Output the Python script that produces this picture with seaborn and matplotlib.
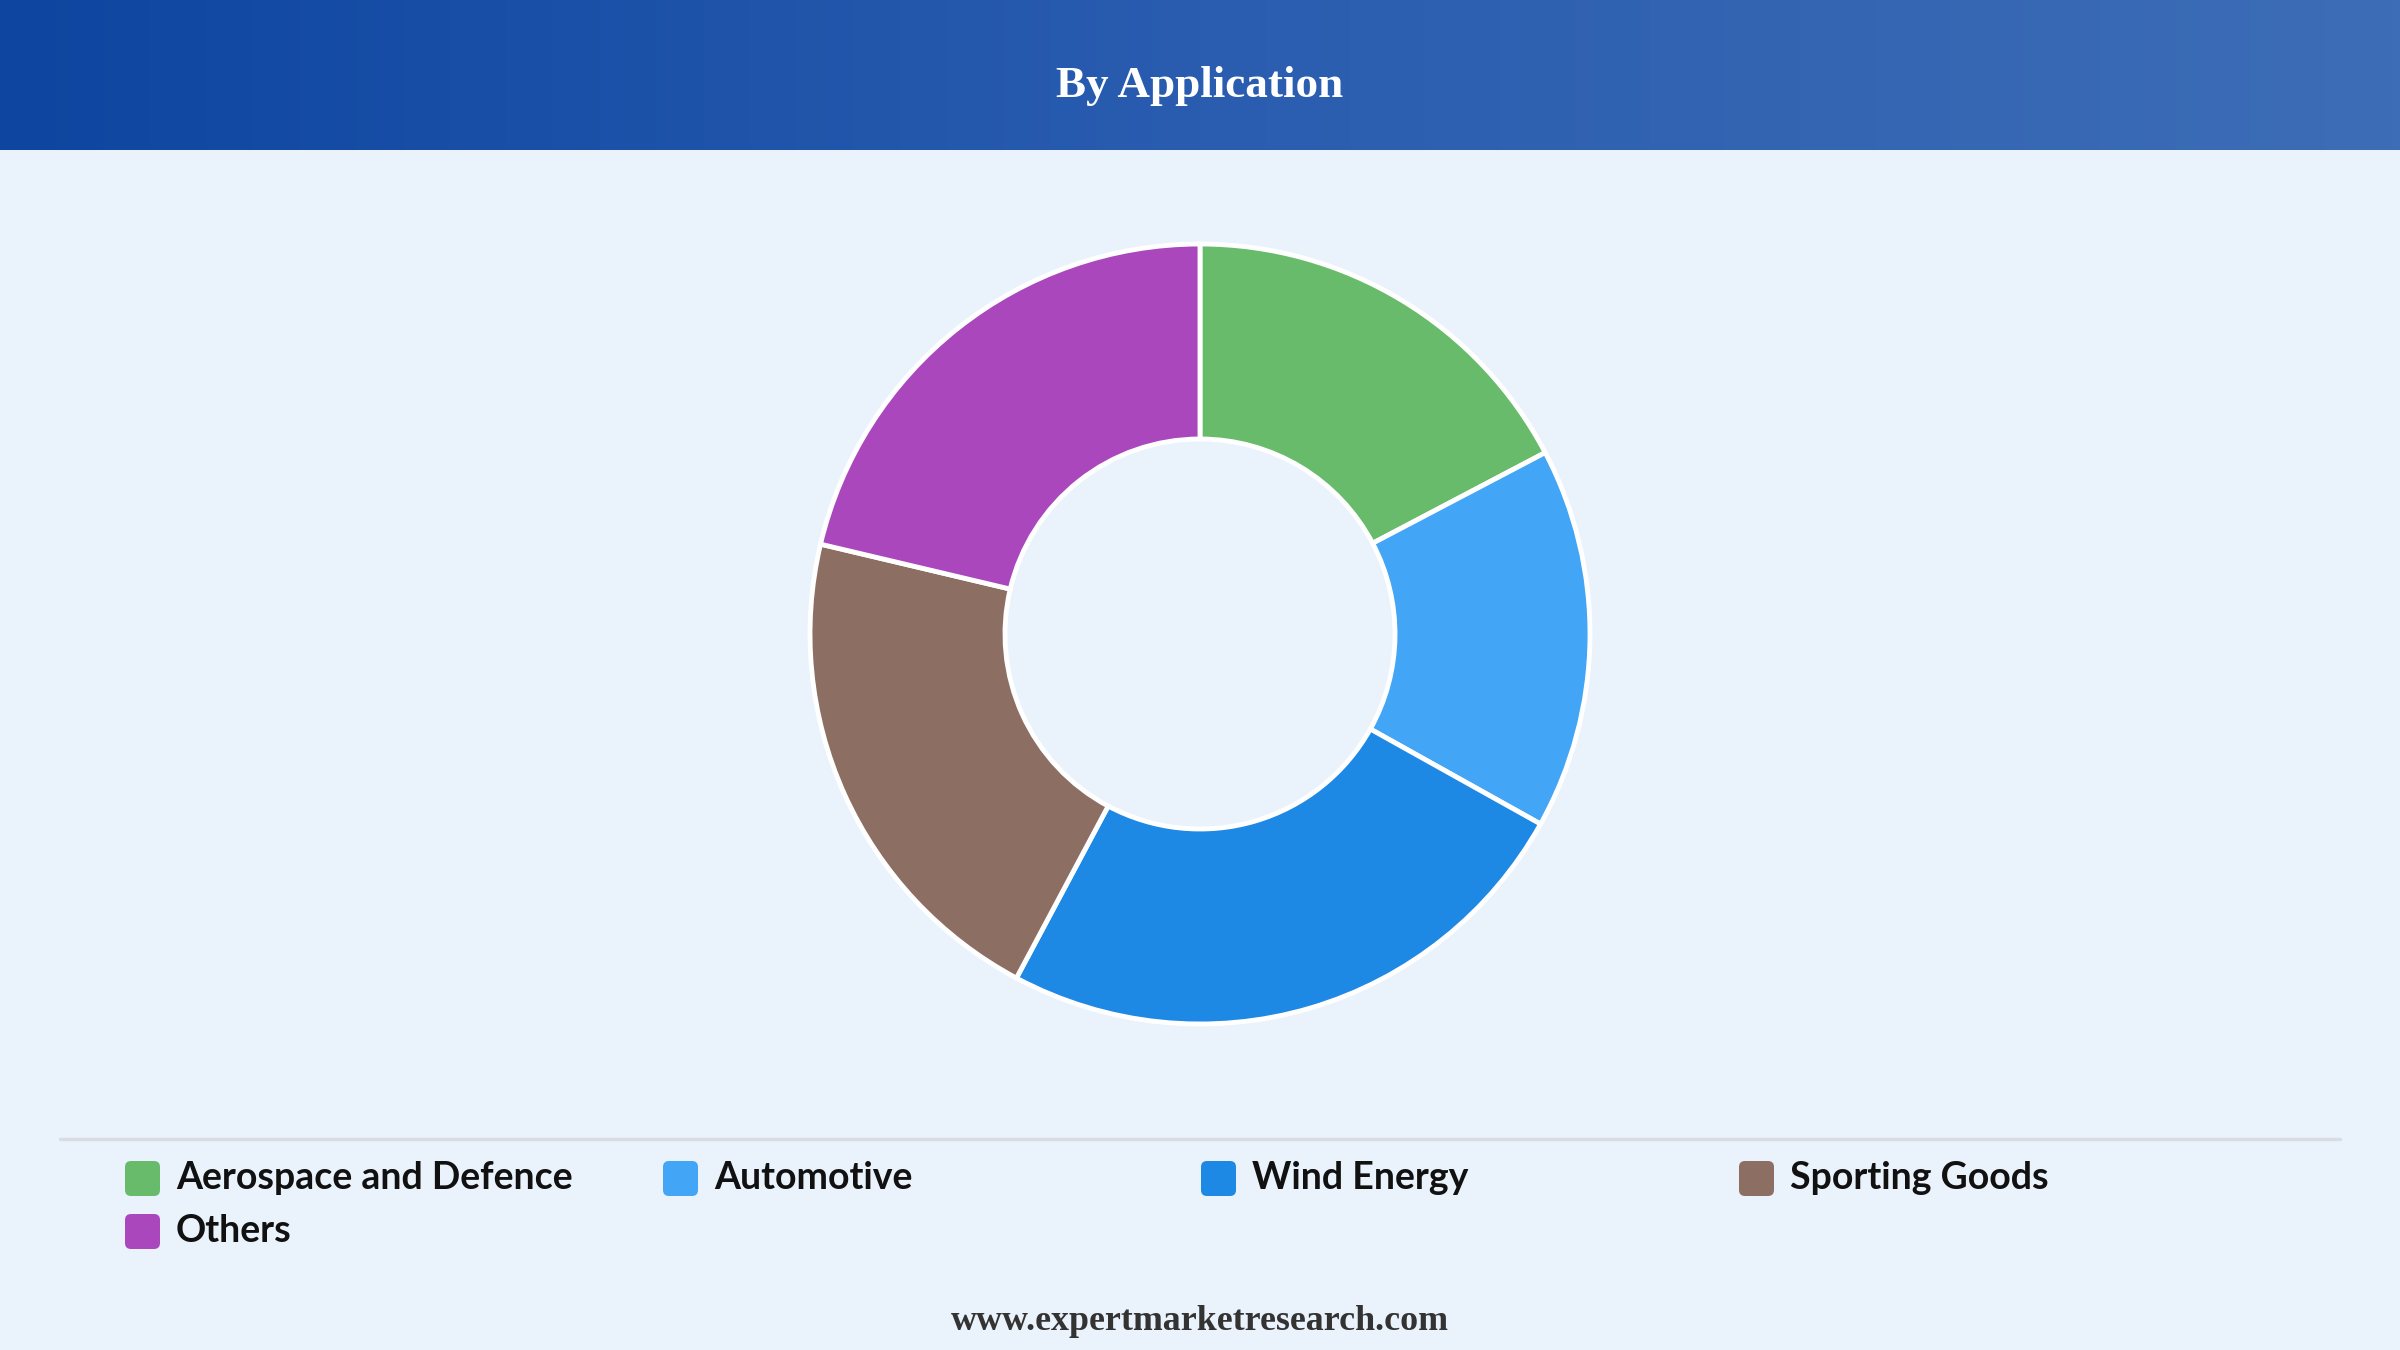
import numpy as np
import matplotlib.pyplot as plt
import seaborn as sns
from matplotlib.patches import FancyBboxPatch
from matplotlib.colors import LinearSegmentedColormap

# Dados
categorias = ["Aerospace and Defence", "Automotive", "Wind Energy", "Sporting Goods", "Others"]
valores = [17.3, 15.8, 24.7, 20.9, 21.3]
cores = ["#69BB6C", "#42A5F5", "#1E88E5", "#8D6E63", "#AB47BC"]
titulo = "By Application"
rodape = "www.expertmarketresearch.com"

sns.set_theme(style="white")
plt.rcParams['font.family'] = ['Lato', 'DejaVu Sans']

W, H = 2400, 1350
fig = plt.figure(figsize=(24, 13.5), dpi=100)
fig.patch.set_facecolor("#EAF2FC")

# Cabeçalho com gradiente
ax_head = fig.add_axes([0, 1 - 150 / H, 1, 150 / H])
grad = LinearSegmentedColormap.from_list("hdr", ["#0D45A0", "#2A5DB0", "#3D6DB6"])
ax_head.imshow(np.linspace(0, 1, 256).reshape(1, -1), cmap=grad, aspect="auto", extent=[0, 1, 0, 1])
ax_head.set_axis_off()
ax_head.text(0.5, 0.43, titulo, color="white", fontsize=32.5, fontweight="bold",
             family="Liberation Serif", ha="center", va="center", transform=ax_head.transAxes)

# Rosca
cx, cy, r = 1200, 634, 390
ax = fig.add_axes([(cx - r) / W, (H - cy - r) / H, 2 * r / W, 2 * r / H])
ax.pie(valores, colors=cores, startangle=90, counterclock=False, radius=1,
       wedgeprops=dict(width=0.5, edgecolor="white", linewidth=3.5))
ax.set_xlim(-1.0, 1.0)
ax.set_ylim(-1.0, 1.0)
ax.set_aspect("equal")

# Linha separadora
ax_bg = fig.add_axes([0, 0, 1, 1], zorder=-1)
ax_bg.set_xlim(0, W)
ax_bg.set_ylim(H, 0)
ax_bg.set_axis_off()
ax_bg.plot([60, 2340], [1139, 1139], color="#D8DDE3", linewidth=2.5)

# Legenda manual
colunas_x = [124, 662, 1200, 1738]
linhas_y = [1178, 1231]
for i, (nome, cor) in enumerate(zip(categorias, cores)):
    x = colunas_x[i % 4]
    y = linhas_y[i // 4]
    ax_bg.add_patch(FancyBboxPatch((x + 1, y - 17), 35, 35, boxstyle="round,pad=0,rounding_size=6",
                                   facecolor=cor, edgecolor="none"))
    ax_bg.text(x + 52, y, nome, fontsize=27, fontweight="bold", color="#111111",
               ha="left", va="center")

# Rodapé
ax_bg.text(1200, 1321, rodape, fontsize=25.8, fontweight="bold", family="Liberation Serif",
           color="#333333", ha="center", va="center")

fig.savefig("out.png", dpi=100, facecolor=fig.get_facecolor())
